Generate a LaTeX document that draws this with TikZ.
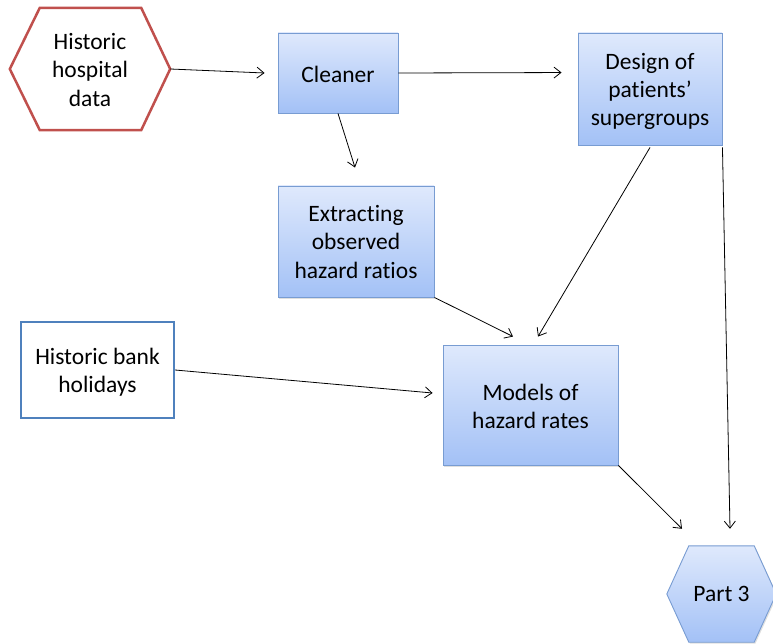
\documentclass[tikz,border=0pt]{standalone}
\usepackage{fontspec}
\setmainfont{Carlito}[Ligatures={TeX,NoCommon}]
\usetikzlibrary{arrows.meta,calc,shadows,backgrounds}
\definecolor{boxtop}{RGB}{223,233,252}
\definecolor{boxbot}{RGB}{163,193,246}
\definecolor{boxline}{RGB}{120,156,210}
\definecolor{hexred}{RGB}{192,80,77}
\definecolor{bankblue}{RGB}{79,129,189}
% #1: height of the first baseline above the node centre
\newcommand{\tpos}[2]{\raisebox{#1}[0pt][0pt]{\begin{tabular}[t]{@{}c@{}}#2\end{tabular}}}
\begin{document}
\begin{tikzpicture}[x=1pt,y=-1pt,
  txt/.style={font=\fontsize{23.5}{28.2}\selectfont, text=black, inner sep=0pt},
  shad/.style={drop shadow={shadow xshift=1.2pt, shadow yshift=-1.5pt, opacity=0.25}},
  gbox/.style={txt, rectangle, draw=boxline, line width=0.9pt, top color=boxtop, bottom color=boxbot, shad},
  arr/.style={-{Straight Barb[length=7pt,width=11pt]}, line width=0.8pt}]
\useasboundingbox (0,0) rectangle (773,644);

\node[txt, minimum width=160pt, minimum height=122pt] (hosp) at (90,69) {\tpos{19.2pt}{Historic\\hospital\\data}};
\node[gbox, minimum width=120pt, minimum height=80pt] (clean) at (338,73) {\tpos{-9.2pt}{Cleaner}};
\node[gbox, minimum width=144pt, minimum height=112pt] (design) at (650,89) {\tpos{19.8pt}{Design of\\patients’\\supergroups}};
\node[gbox, minimum width=156pt, minimum height=111pt] (extract) at (356,241.5) {\tpos{19.8pt}{Extracting\\observed\\hazard ratios}};
\node[gbox, minimum width=175pt, minimum height=120pt] (models) at (530.5,405) {\tpos{4.3pt}{Models of\\hazard rates}};
\node[txt, rectangle, draw=bankblue, line width=2.2pt, fill=white, minimum width=153pt, minimum height=96pt] (bank) at (97.5,370) {\tpos{5.5pt}{Historic bank\\holidays}};
\node[txt, minimum width=109pt, minimum height=96pt] (part3) at (721.5,594) {\tpos{-7.7pt}{Part 3}};

\begin{pgfonlayer}{background}
  \path[draw=hexred, line width=2.5pt, fill=white, line join=miter]
    (hosp.west) -- ($(hosp.north west)+(30,0)$) -- ($(hosp.north east)+(-29,0)$) -- (hosp.east)
    -- ($(hosp.south east)+(-29,0)$) -- ($(hosp.south west)+(30,0)$) -- cycle;
  \path[draw=boxline, line width=0.9pt, top color=boxtop, bottom color=boxbot, shad]
    (part3.west) -- ($(part3.north west)+(22,0)$) -- ($(part3.north east)+(-22,0)$) -- (part3.east)
    -- ($(part3.south east)+(-22,0)$) -- ($(part3.south west)+(22,0)$) -- cycle;
\end{pgfonlayer}

\coordinate (hospR) at (hosp.east);
\draw[arr] (hospR) -- ($(clean.west)+(-13,0)$);
\draw[arr] (clean.east) -- ($(design.north west)+(-16,40)$);
\draw[arr] (clean.south) -- ($(extract.north)+(-1,-18)$);
\draw[arr] (extract.south east) -- ($(models.north)+(-17.5,-8)$);
\draw[arr] ($(design.south)+(0,2)$) -- ($(models.north)+(7.5,-8)$);
\draw[arr] (bank.east) -- ($(models.west)+(-10,-12)$);
\draw[arr] (models.south east) -- ($(part3.north)+(-39.5,-17)$);
\draw[arr] ($(design.south east)+(0,2)$) -- ($(part3.north)+(8.5,-17)$);
\end{tikzpicture}
\end{document}
